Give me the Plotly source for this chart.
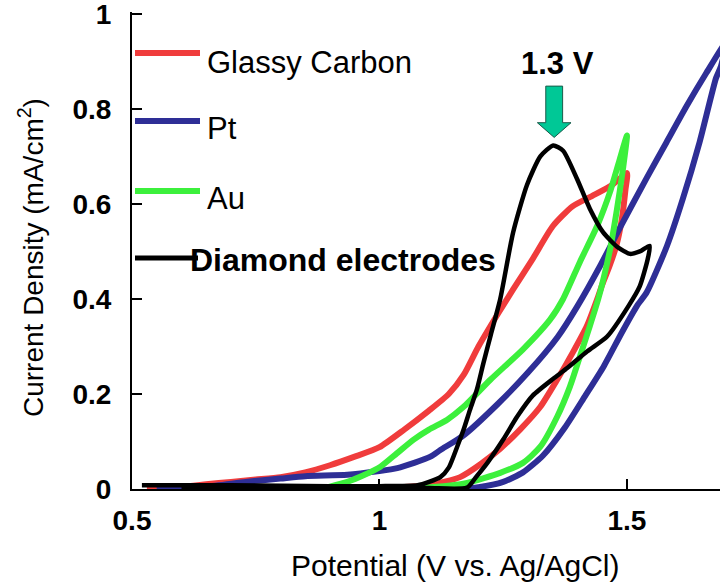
import plotly.graph_objects as go

# ---------------- data ----------------
gc_potential = [0.53, 0.60, 0.65, 0.70, 0.75, 0.80, 0.85, 0.90, 0.95, 1.00, 1.05, 1.10, 1.14, 1.17, 1.20, 1.24,
                1.27, 1.31, 1.35, 1.39, 1.43, 1.47, 1.50,
                1.497, 1.49, 1.478, 1.465, 1.45, 1.44, 1.419, 1.391, 1.359, 1.325, 1.284, 1.244, 1.204, 1.163,
                1.13, 1.10, 1.05, 1.00, 0.95, 0.90, 0.85, 0.80, 0.75, 0.70, 0.65, 0.60, 0.55]
gc_current = [0.003, 0.005, 0.010, 0.015, 0.020, 0.025, 0.035, 0.050, 0.068, 0.088, 0.125, 0.165, 0.20, 0.24, 0.30, 0.37,
              0.42, 0.485, 0.553, 0.595, 0.617, 0.640, 0.665,
              0.630, 0.570, 0.510, 0.470, 0.430, 0.400, 0.343, 0.288, 0.230, 0.173, 0.125, 0.085, 0.052, 0.025,
              0.015, 0.008, 0.004, 0.002, -0.004, 0.001, -0.003, 0.002, -0.003, 0.003, 0.000, -0.005, -0.008]

pt_potential = [0.55, 0.65, 0.73, 0.80, 0.85, 0.935, 1.00, 1.036, 1.07, 1.103, 1.123, 1.17, 1.24, 1.30, 1.36, 1.40,
                1.446, 1.486, 1.54, 1.58, 1.62, 1.66, 1.70,
                1.69, 1.68, 1.647, 1.613, 1.581, 1.54, 1.52, 1.49, 1.453, 1.415, 1.375, 1.33, 1.29, 1.25, 1.20,
                1.15, 1.10, 1.00, 0.90, 0.86, 0.80, 0.70, 0.60, 0.55]
pt_current = [0.000, 0.005, 0.015, 0.022, 0.027, 0.030, 0.038, 0.044, 0.055, 0.068, 0.082, 0.113, 0.180, 0.245, 0.320, 0.385,
              0.470, 0.550, 0.655, 0.730, 0.805, 0.875, 0.940,
              0.890, 0.865, 0.731, 0.611, 0.512, 0.414, 0.385, 0.330, 0.258, 0.195, 0.130, 0.070, 0.035, 0.015, 0.004,
              0.000, -0.002, -0.003, -0.002, -0.008, 0.000, 0.000, -0.005, -0.002]

au_potential = [0.855, 0.90, 0.935, 0.97, 1.002, 1.035, 1.069, 1.10, 1.137, 1.17, 1.224, 1.29, 1.345, 1.371, 1.405,
                1.44, 1.466, 1.486, 1.50,
                1.492, 1.48, 1.466, 1.452, 1.442, 1.425, 1.405, 1.385, 1.359, 1.325, 1.29, 1.244, 1.177, 1.109,
                1.00, 0.93, 0.86]
au_current = [-0.006, 0.005, 0.015, 0.030, 0.047, 0.075, 0.104, 0.125, 0.146, 0.173, 0.230, 0.294, 0.357, 0.400, 0.478,
              0.554, 0.626, 0.696, 0.744,
              0.674, 0.590, 0.505, 0.440, 0.400, 0.343, 0.279, 0.216, 0.152, 0.089, 0.055, 0.034, 0.013, 0.004,
              0.000, -0.003, -0.006]

bdd_potential = [0.52, 0.60, 0.70, 0.80, 0.90, 1.00, 1.077, 1.10, 1.123, 1.14, 1.157, 1.17, 1.183, 1.197, 1.21, 1.225,
                 1.244, 1.27, 1.298, 1.325, 1.351, 1.371, 1.399, 1.425, 1.452, 1.48, 1.506, 1.526, 1.546,
                 1.542, 1.526, 1.503, 1.46, 1.42, 1.38, 1.351, 1.31, 1.278, 1.25, 1.218, 1.195, 1.177,
                 1.10, 1.00, 0.915, 0.90, 0.80, 0.70, 0.60]
bdd_current = [0.008, 0.008, 0.008, 0.007, 0.006, 0.006, 0.008, 0.015, 0.025, 0.045, 0.089, 0.125, 0.167, 0.210, 0.265, 0.325,
               0.400, 0.540, 0.640, 0.700, 0.723, 0.712, 0.653, 0.590, 0.540, 0.510, 0.495, 0.500, 0.512,
               0.484, 0.427, 0.385, 0.321, 0.290, 0.255, 0.232, 0.197, 0.152, 0.104, 0.055, 0.025, 0.003,
               0.002, 0.003, 0.004, 0.000, 0.000, 0.001, 0.002]

series_names = ["Glassy Carbon", "Pt", "Au", "Diamond electrodes"]
series_colors = ["#f03c3c", "#2e2e96", "#3cf03c", "#000000"]

peak_potential = 1.35
peak_label = "1.3 V"

x_ticks = [0.5, 1, 1.5]
y_ticks = [0, 0.2, 0.4, 0.6, 0.8, 1]
x_title = "Potential (V vs. Ag/AgCl)"
y_title = "Current Density (mA/cm<sup>2</sup>)"

# ---------------- figure ----------------
W, H = 720, 582
ML, MR, MT, MB = 132, 0, 12, 93
Y_TOP = 1.004
FONT = "Liberation Sans, Arial, sans-serif"

fig = go.Figure()
data = [(gc_potential, gc_current), (pt_potential, pt_current), (au_potential, au_current), (bdd_potential, bdd_current)]
for (xs, ys), name, col in zip(data, series_names, series_colors):
    fig.add_trace(go.Scatter(x=xs, y=ys, mode="lines", name=name,
                             line=dict(color=col, width=4.5 if name.startswith("Diamond") else 6, shape="spline",
                                       smoothing=0.6),
                             showlegend=False))

# hand-drawn style legend (lines + labels) in paper coords
def px2paper_x(px):
    return (px - ML) / (W - ML - MR)

def px2paper_y(py):
    return (H - MB - py) / (H - MB - MT)

legend_rows = [(53, 62), (121, 128), (191, 198), (258, 260)]
for (line_y, text_y), name, col in zip(legend_rows, series_names, series_colors):
    is_bdd = name.startswith("Diamond")
    fig.add_shape(type="line", xref="paper", yref="paper",
                  x0=px2paper_x(135), x1=px2paper_x(198 if is_bdd else 200),
                  y0=px2paper_y(line_y), y1=px2paper_y(line_y),
                  line=dict(color=col, width=5 if is_bdd else 6))
    fig.add_annotation(xref="paper", yref="paper", x=px2paper_x(188 if is_bdd else 205), y=px2paper_y(text_y),
                       text=f"<b>{name}</b>" if is_bdd else name, showarrow=False,
                       xanchor="left", yanchor="middle",
                       font=dict(family=FONT, size=32 if is_bdd else 31, color="black"))

# axis titles (placed as in the reference)
fig.add_annotation(xref="paper", yref="paper", x=px2paper_x(455), y=px2paper_y(565), text=x_title,
                   showarrow=False, xanchor="center", yanchor="middle",
                   font=dict(family=FONT, size=30, color="black"))
fig.add_annotation(xref="paper", yref="paper", x=px2paper_x(31), y=px2paper_y(258), text=y_title,
                   showarrow=False, xanchor="center", yanchor="middle", textangle=-90,
                   font=dict(family=FONT, size=28, color="black"))

# peak label and block arrow
fig.add_annotation(x=peak_potential + 0.009, y=0.896, xref="x", yref="y", text=f"<b>{peak_label}</b>",
                   showarrow=False, font=dict(family=FONT, size=31, color="black"))
ax_w = 0.017   # half shaft width (data units)
hw = 0.034     # half head width
y_top, y_head, y_tip = 0.848, 0.771, 0.740
ax0 = peak_potential + 0.003
path = (f"M {ax0-ax_w},{y_top} L {ax0+ax_w},{y_top} L {ax0+ax_w},{y_head} L {ax0+hw},{y_head} "
        f"L {ax0},{y_tip} L {ax0-hw},{y_head} L {ax0-ax_w},{y_head} Z")
fig.add_shape(type="path", xref="x", yref="y", path=path, fillcolor="#00c896",
              line=dict(color="#1a5a4a", width=1))

fig.update_layout(
    width=W, height=H, margin=dict(l=ML, r=MR, t=MT, b=MB, autoexpand=False),
    paper_bgcolor="white", plot_bgcolor="white",
    font=dict(family=FONT, color="black"),
    xaxis=dict(range=[0.5, 1.688], tickvals=x_ticks, ticks="inside", ticklen=10, tickwidth=1.5, tickcolor="black",
               showline=True, linecolor="black", linewidth=2, showgrid=False, zeroline=False,
               tickfont=dict(family=FONT, size=28, color="black", weight="bold"), ticklabelstandoff=5,
               ticklabeloverflow="allow", automargin=False),
    yaxis=dict(range=[0, Y_TOP], tickvals=y_ticks, ticks="inside", ticklen=10, tickwidth=1.5, tickcolor="black",
               showline=True, linecolor="black", linewidth=2, showgrid=False, zeroline=False,
               tickfont=dict(family=FONT, size=28, color="black", weight="bold"), ticklabelstandoff=13,
               ticklabeloverflow="allow", automargin=False),
)

fig.write_html("out.html", post_script="document.body.style.margin='0';",
               config={"displayModeBar": False})
